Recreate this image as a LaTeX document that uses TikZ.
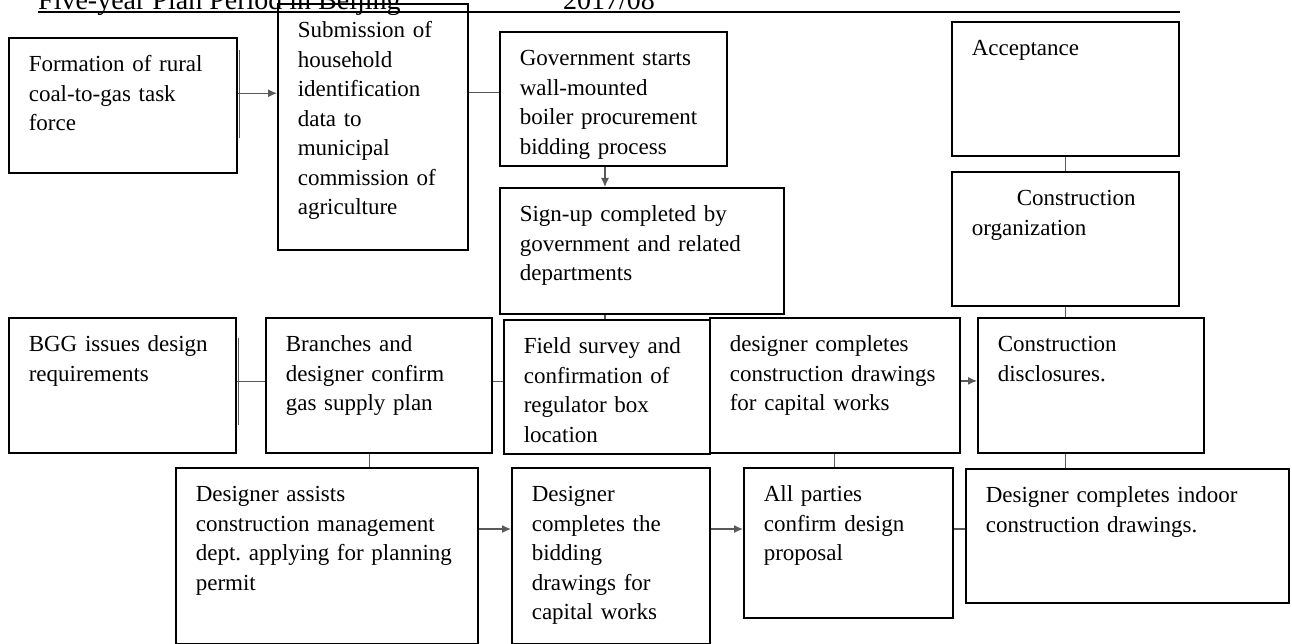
\documentclass[tikz,border=0pt]{standalone}
\usepackage{fontspec}
\setmainfont{Liberation Serif}
\usepackage{tikz}
\usetikzlibrary{arrows.meta}
\frenchspacing
\tikzset {
  % process boxes, text set from the top left corner
  stepbox/.style = {draw, line width=1.6pt, anchor=north west, align=left,
    inner xsep=20pt, inner ysep=12pt, text height=22pt,
    font=\fontsize{23}{29.5}\selectfont},
  % text width and text depth of a box
  boxsize/.style 2 args = {text width=#1, text depth=#2},
  % plain connectors and arrows
  link/.style = {line width=1.2pt, black!65},
  flow/.style = {link, -{Latex[length=9pt,width=8pt]}},
  headline/.style = {anchor=base west, inner sep=0pt, font=\fontsize{28}{34}\selectfont},
}
\begin{document}
\begin{tikzpicture}[x=1pt, y=-1pt]
      \useasboundingbox (0,0) rectangle (1292,644);

      % page header
      \node[headline] (header) at (38, 10) {Five-year Plan Period in Beijing};
      \node[headline] (date) at (563, 10) {2017/08};
      \draw[line width=2pt] (38, 12) -- (1180, 12);

      % top rows
      \node[stepbox, boxsize={188pt}{89pt}] (taskforce) at (8, 37) {Formation of rural\\coal-to-gas task\\force};
      \node[stepbox, boxsize={150pt}{200pt}] (submit) at (277, 3) {Submission of\\household\\identification\\data to\\municipal\\commission of\\agriculture};
      \node[stepbox, boxsize={187pt}{88pt}] (procure) at (499, 31) {Government starts\\wall-mounted\\boiler procurement\\bidding process};
      \node[stepbox, boxsize={244pt}{80pt}] (signup) at (499, 187) {Sign-up completed by\\government and related\\departments};
      \node[stepbox, boxsize={187pt}{88pt}] (accept) at (951, 21) {Acceptance};
      \node[stepbox, boxsize={187pt}{88pt}] (organize) at (951, 171) {\hspace*{45pt}Construction\\organization};

      % middle row
      \node[stepbox, boxsize={187pt}{89pt}] (require) at (8, 317) {BGG issues design\\requirements};
      \node[stepbox, boxsize={186pt}{89pt}] (supply) at (265, 317) {Branches and\\designer confirm\\gas supply plan};
      \node[stepbox, boxsize={166pt}{88pt}] (survey) at (503, 319) {Field survey and\\confirmation of\\regulator box\\location};
      \node[stepbox, boxsize={210pt}{89pt}] (capdraw) at (709, 317) {designer completes\\construction drawings\\for capital works};
      \node[stepbox, boxsize={186pt}{89pt}] (disclose) at (977, 317) {Construction\\disclosures.};

      % bottom row
      \node[stepbox, boxsize={262pt}{130pt}] (permit) at (175, 467) {Designer assists\\construction management\\dept. applying for planning\\permit};
      \node[stepbox, boxsize={158pt}{130pt}] (biddraw) at (511, 467) {Designer\\completes the\\bidding\\drawings for\\capital works};
      \node[stepbox, boxsize={169pt}{104pt}] (confirm) at (743, 467) {All parties\\confirm design\\proposal};
      \node[stepbox, boxsize={283pt}{88pt}] (indoor) at (965, 468) {Designer completes indoor\\construction drawings.};

      % connectors
      \draw[link] ([shift={(2,13)}]taskforce.north east) -- ([shift={(2,-36)}]taskforce.south east);
      \draw[flow] (taskforce.6) -- (taskforce.6 -| submit.west);
      \draw[link] (submit.east |- procure.177) -- (procure.177);
      \draw[flow] (procure.263) -- (procure.263 |- signup.north);
      \draw[link] (procure.263 |- signup.south) -- (procure.263 |- survey.north);
      \draw[link] (accept.south) -- (organize.north);
      \draw[link] (organize.south) -- (organize.south |- disclose.north);

      \draw[link] ([shift={(2,21)}]require.north east) -- ([shift={(2,-29)}]require.south east);
      \draw[link] (require.2) -- (require.2 -| supply.west);
      \draw[link] (supply.2) -- (supply.2 -| survey.west);
      \draw[flow] (capdraw.2) -- (capdraw.2 -| disclose.west);
      \draw[link] (organize.south |- disclose.south) -- (organize.south |- indoor.north);
      \draw[link] (capdraw.south) -- (capdraw.south |- confirm.north);
      \draw[link] (supply.262) -- (supply.262 |- permit.north);

      \draw[flow] (permit.10) -- (permit.10 -| biddraw.west);
      \draw[flow] (permit.10 -| biddraw.east) -- (permit.10 -| confirm.west);
      \draw[link] (permit.10 -| confirm.east) -- (permit.10 -| indoor.west);
\end{tikzpicture}
\end{document}
